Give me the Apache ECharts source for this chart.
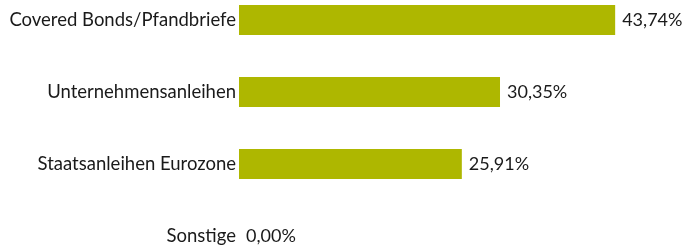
<!DOCTYPE html>
<html><head><meta charset="utf-8">
<script src="https://cdn.jsdelivr.net/npm/echarts@6/dist/echarts.min.js"></script>
<style>html,body{margin:0;padding:0;background:#fff}#c{width:685px;height:251px}</style>
</head><body><div id="c"></div>
<script>
const categories = ["Covered Bonds/Pfandbriefe", "Unternehmensanleihen", "Staatsanleihen Eurozone", "Sonstige"];
const values = [43.74, 30.35, 25.91, 0.00];

const chart = echarts.init(document.getElementById('c'));
const font = 'Lato';
chart.setOption({
  animation: false,
  grid: { left: 239, top: 20, width: 430, height: 216, containLabel: false },
  xAxis: { type: 'value', min: 0, max: 50, show: false },
  yAxis: {
    type: 'category', inverse: true, data: categories, boundaryGap: false,
    axisLine: { show: false }, axisTick: { show: false }, splitLine: { show: false },
    axisLabel: { margin: 3, color: '#1a1a1a', fontSize: 18.5, fontFamily: font }
  },
  series: [{
    type: 'bar', data: values, barWidth: 30,
    itemStyle: { color: '#aeb700' },
    label: {
      show: true, position: 'right', distance: 7, color: '#1a1a1a', fontSize: 18, fontFamily: font,
      formatter: p => p.value.toFixed(2).replace('.', ',') + '%'
    }
  }]
});
</script></body></html>
